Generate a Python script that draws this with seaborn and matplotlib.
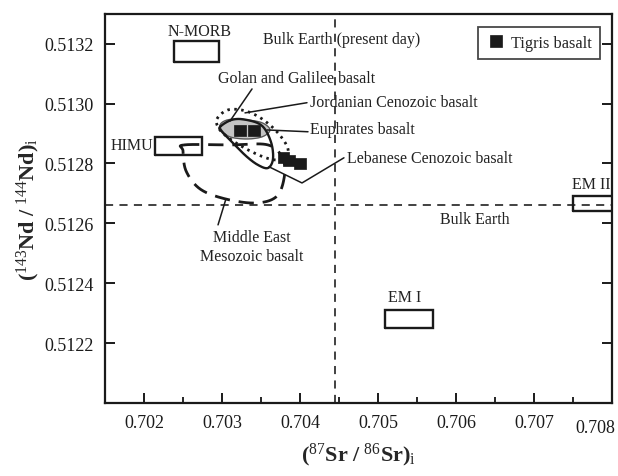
import numpy as np
import pandas as pd
import matplotlib
matplotlib.use("Agg")
import matplotlib.pyplot as plt
import matplotlib.transforms as mtransforms
from matplotlib.ticker import MultipleLocator, FixedLocator
import seaborn as sns

# ---- data -------------------------------------------------------------
# Tigris basalt samples
tigris_sr = [0.70323, 0.70341, 0.70379, 0.70386, 0.70400]
tigris_nd = [0.51291, 0.51291, 0.51282, 0.51281, 0.51280]

# bulk earth reference values
bulk_sr = 0.70445
bulk_nd = 0.51266

# mantle end-member boxes: (Sr min, Sr max, Nd min, Nd max)
nmorb_box = (0.70238, 0.70296, 0.51314, 0.51321)
himu_box = (0.70214, 0.70274, 0.51283, 0.51289)
em1_box = (0.70509, 0.70571, 0.51225, 0.51231)
em2_box = (0.70750, 0.70810, 0.51264, 0.51269)

# field outlines (Sr, Nd)
mideast_sr = [0.702513, 0.703103, 0.703590, 0.703782, 0.703795, 0.703692,
              0.703423, 0.703038, 0.702718, 0.702539, 0.702500]
mideast_nd = [0.512862, 0.512862, 0.512862, 0.512815, 0.512749, 0.512688,
              0.512668, 0.512682, 0.512715, 0.512775, 0.512842]

jordan_sr = [0.702936, 0.703077, 0.703295, 0.703513, 0.703718, 0.703846,
             0.703795, 0.703615, 0.703359, 0.703103, 0.702962]
jordan_nd = [0.512949, 0.512979, 0.512976, 0.512949, 0.512902, 0.512849,
             0.512815, 0.512815, 0.512842, 0.512882, 0.512916]

leban_sr = [0.702974, 0.703128, 0.703308, 0.703513, 0.703628, 0.703654,
            0.703590, 0.703462, 0.703308, 0.703128, 0.703000]
leban_nd = [0.512922, 0.512946, 0.512946, 0.512926, 0.512872, 0.512815,
            0.512785, 0.512795, 0.512825, 0.512872, 0.512906]

euph_sr = [0.702974, 0.703077, 0.703295, 0.703513, 0.703615, 0.703513,
           0.703295, 0.703077]
euph_nd = [0.512926, 0.512946, 0.512946, 0.512936, 0.512912, 0.512889,
           0.512882, 0.512892]

# axis ticks
x_ticks = [0.702, 0.703, 0.704, 0.705, 0.706, 0.707, 0.708]
y_ticks = [0.5122, 0.5124, 0.5126, 0.5128, 0.5130, 0.5132]


def closed_curve(xs, ys, n=24):
    """Smooth closed Catmull-Rom curve through outline vertices."""
    p = np.column_stack([xs, ys])
    m = len(p)
    t = np.linspace(0, 1, n, endpoint=False)[:, None]
    segs = []
    for i in range(m):
        p0, p1, p2, p3 = p[i - 1], p[i], p[(i + 1) % m], p[(i + 2) % m]
        segs.append(0.5 * (2 * p1 + (-p0 + p2) * t
                           + (2 * p0 - 5 * p1 + 4 * p2 - p3) * t ** 2
                           + (-p0 + 3 * p1 - 3 * p2 + p3) * t ** 3))
    c = np.vstack(segs + [segs[0][:1]])
    return c[:, 0], c[:, 1]


# ---- style ------------------------------------------------------------
sns.set_style("ticks")
plt.rcParams["font.family"] = ["Liberation Serif", "DejaVu Serif"]
plt.rcParams["mathtext.fontset"] = "custom"
plt.rcParams["mathtext.rm"] = "Liberation Serif"
plt.rcParams["mathtext.bf"] = "Liberation Serif:bold"
plt.rcParams["mathtext.it"] = "Liberation Serif:italic"

ink = "#1a1a1a"

fig = plt.figure(figsize=(6.18, 4.77), dpi=100)
ax = fig.add_axes([0.170, 0.153, 0.820, 0.816])

# reference lines
dash = dict(color="#333333", lw=1.3, ls=(0, (4.5, 3.5)), zorder=1)
ax.axvline(bulk_sr, **dash)
ax.axhline(bulk_nd, **dash)

# end-member boxes
for x0, x1, y0, y1 in (nmorb_box, himu_box, em1_box, em2_box):
    ax.plot([x0, x1, x1, x0, x0], [y0, y0, y1, y1, y0], color=ink,
            lw=1.7, solid_joinstyle="miter", zorder=3)

# fields
ex, ey = closed_curve(euph_sr, euph_nd)
ax.fill(ex, ey, color="#c4c4c4", zorder=2)
ax.plot(ex, ey, color="#555555", lw=0.9, zorder=2)

mx, my = closed_curve(mideast_sr, mideast_nd)
ax.plot(mx, my, color=ink, lw=2.0, ls=(0, (5.5, 3.2)), zorder=3)

jx, jy = closed_curve(jordan_sr, jordan_nd)
ax.plot(jx, jy, color=ink, lw=2.0, ls=(0, (0.9, 1.6)), zorder=3)

lx, ly = closed_curve(leban_sr, leban_nd)
ax.plot(lx, ly, color=ink, lw=1.7, zorder=3)

# Tigris samples
df = pd.DataFrame({"sr": tigris_sr, "nd": tigris_nd,
                   "group": ["Tigris basalt"] * len(tigris_sr)})
sns.scatterplot(data=df, x="sr", y="nd", hue="group", palette=[ink],
                marker="s", s=70, edgecolor=ink, linewidth=0.5,
                ax=ax, zorder=5)

# leader lines
lead = dict(color=ink, lw=1.1, zorder=4)
ax.plot([0.703385, 0.703103], [0.513049, 0.512942], **lead)
ax.plot([0.704090, 0.703295], [0.513003, 0.512969], **lead)
ax.plot([0.704103, 0.703577], [0.512906, 0.512912], **lead)
ax.plot([0.704564, 0.704026, 0.703603], [0.512819, 0.512735, 0.512789], **lead)
ax.plot([0.702949, 0.703051], [0.512595, 0.512682], **lead)

# labels
fs = 11.5
tk = dict(fontsize=fs, color="#222222", zorder=6)
ax.text(0.702718, 0.513243, "N-MORB", ha="center", va="center", **tk)
ax.text(0.704538, 0.513216, "Bulk Earth (present day)", ha="center",
        va="center", **tk)
ax.text(0.702949, 0.513086, "Golan and Galilee basalt", ha="left",
        va="center", **tk)
ax.text(0.704128, 0.513006, "Jordanian Cenozoic basalt", ha="left",
        va="center", **tk)
ax.text(0.704128, 0.512916, "Euphrates basalt", ha="left", va="center", **tk)
ax.text(0.702115, 0.512862, "HIMU", ha="right", va="center", **tk)
ax.text(0.704603, 0.512819, "Lebanese Cenozoic basalt", ha="left",
        va="center", **tk)
ax.text(0.707731, 0.512732, "EM II", ha="center", va="center", **tk)
ax.text(0.705795, 0.512615, "Bulk Earth", ha="left", va="center", **tk)
ax.text(0.703385, 0.512523, "Middle East\nMesozoic basalt", ha="center",
        va="center", linespacing=1.25, **tk)
ax.text(0.705346, 0.512354, "EM I", ha="center", va="center", **tk)

# axes
ax.set_xlim(0.7015, 0.708)
ax.set_ylim(0.5120, 0.5133)
ax.xaxis.set_major_locator(FixedLocator(x_ticks))
ax.xaxis.set_minor_locator(MultipleLocator(0.0005))
ax.yaxis.set_major_locator(FixedLocator(y_ticks))
ax.set_xticklabels([f"{v:.3f}" for v in x_ticks])
ax.set_yticklabels([f"{v:.4f}" for v in y_ticks])
ax.tick_params(which="major", direction="in", length=7.5, width=1.4,
               labelsize=13, colors=ink, pad=8, right=True)
ax.tick_params(which="minor", direction="in", length=4, width=1.4,
               right=False)
ax.tick_params(axis="y", which="minor", left=False)
for s in ax.spines.values():
    s.set_linewidth(1.6)
    s.set_color(ink)

# keep the last x tick label inside the figure
last = ax.get_xticklabels()[-1]
last.set_horizontalalignment("right")
last.set_transform(last.get_transform() +
                   mtransforms.ScaledTranslation(0.03, -0.05,
                                                 fig.dpi_scale_trans))

ax.set_xlabel(r"$\mathbf{(}^{87}\mathbf{Sr\ /\ }^{86}\mathbf{Sr)}_{\mathrm{i}}$",
              fontsize=16, labelpad=3)
ax.set_ylabel(r"$\mathbf{(}^{143}\mathbf{Nd\ /\ }^{144}\mathbf{Nd)}_{\mathrm{i}}$",
              fontsize=16, labelpad=2)

leg = ax.legend(loc="upper right", bbox_to_anchor=(0.976, 0.967),
                borderaxespad=0, frameon=True, fancybox=False,
                edgecolor=ink, fontsize=11.8, handletextpad=0.3,
                handlelength=1.2, borderpad=0.5, markerscale=1.0)
leg.get_frame().set_linewidth(1.3)

fig.savefig("out.png", dpi=100)
